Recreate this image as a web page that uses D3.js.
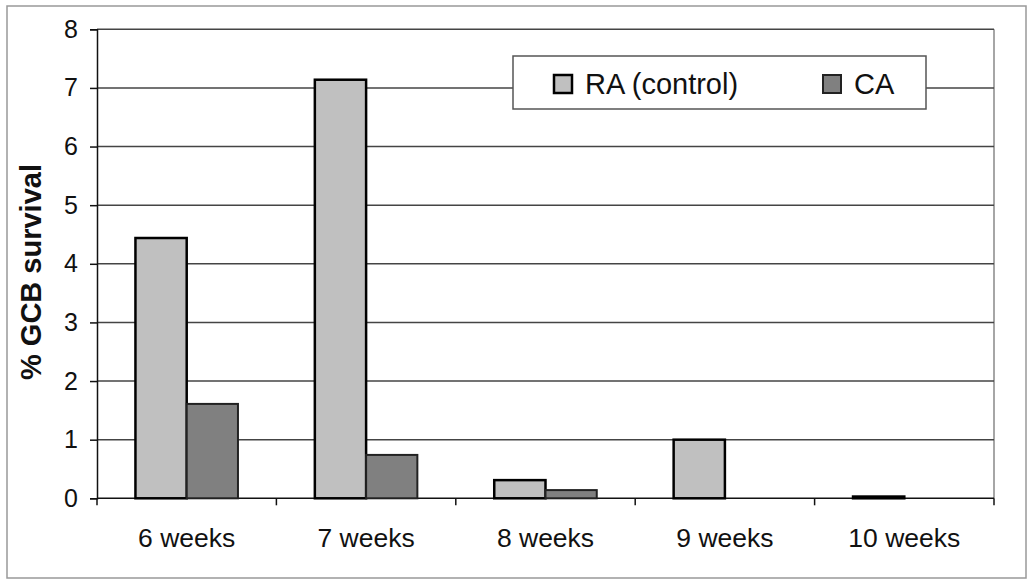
<!DOCTYPE html>
<html><head><meta charset="utf-8">
<script src="https://cdn.jsdelivr.net/npm/d3@7"></script>
<style>body{margin:0;background:#fff}svg{display:block}text{font-family:"Liberation Sans",Arial,sans-serif;fill:#111}</style>
</head><body><svg id="c" width="1029" height="581"></svg>
<script>
const categories = ["6 weeks","7 weeks","8 weeks","9 weeks","10 weeks"];
const seriesNames = ["RA (control)","CA"];
const raValues = [4.44, 7.14, 0.31, 1.0, 0.03];
const caValues = [1.61, 0.74, 0.14, 0, 0];
const yTicks = [0,1,2,3,4,5,6,7,8];
const yTitle = "% GCB survival";

const svg = d3.select("#c");
const L = 97, R = 994, T = 29.3, B = 498.3;
const x = d3.scaleBand().domain(categories).range([L, R]).paddingInner(0).paddingOuter(0);
const y = d3.scaleLinear().domain([0, 8]).range([B, T]);
const fills = ["#c0c0c0", "#808080"];
const strokes = ["#000", "#222"];
const sw = [2.5, 2];

// outer border
svg.append("rect").attr("x",7).attr("y",6).attr("width",1019).attr("height",572)
  .attr("fill","none").attr("stroke","#999").attr("stroke-width",1.5);

// plot frame (right side gray)
svg.append("line").attr("x1",R).attr("x2",R).attr("y1",T).attr("y2",B)
  .attr("stroke","#888").attr("stroke-width",1.5);

// gridlines
svg.append("g").selectAll("line").data(yTicks.filter(d=>d>0)).join("line")
  .attr("x1",L).attr("x2",R).attr("y1",d=>y(d)).attr("y2",d=>y(d))
  .attr("stroke","#444").attr("stroke-width",1.4);

// y axis
const yAxis = d3.axisLeft(y).tickValues(yTicks).tickSize(7).tickPadding(12).tickFormat(d3.format("d"));
const gy = svg.append("g").attr("transform",`translate(${L},0)`).call(yAxis);
gy.select(".domain").attr("stroke","#111").attr("stroke-width",1.5);
gy.selectAll(".tick line").attr("stroke","#111").attr("stroke-width",1.5);
gy.selectAll(".tick text").style("font-size","25px").attr("fill","#111");

// x axis with ticks at boundaries
const gx = svg.append("g").attr("transform",`translate(0,${B})`);
gx.append("line").attr("x1",L).attr("x2",R).attr("stroke","#111").attr("stroke-width",1.5);
const bounds = categories.map(c=>x(c)).concat([R]);
gx.selectAll("line.tk").data(bounds).join("line").attr("class","tk")
  .attr("x1",d=>d).attr("x2",d=>d).attr("y1",0).attr("y2",7).attr("stroke","#111").attr("stroke-width",1.5);
gx.selectAll("text").data(categories).join("text")
  .attr("x",d=>x(d)+x.bandwidth()/2).attr("y",49).attr("text-anchor","middle")
  .style("font-size","26.5px").text(d=>d);

// bars
const inner = d3.scaleBand().domain(seriesNames).range([0, x.bandwidth()]).paddingOuter(0.75).paddingInner(0);
const data = [raValues, caValues];
seriesNames.forEach((s, si) => {
  svg.append("g").selectAll("rect").data(categories.map((c,i)=>({c, v:data[si][i]})).filter(d=>d.v>0)).join("rect")
    .attr("x",d=>x(d.c)+inner(s)).attr("width",inner.bandwidth())
    .attr("y",d=>y(d.v)).attr("height",d=>B-y(d.v))
    .attr("fill",fills[si]).attr("stroke",strokes[si]).attr("stroke-width",sw[si]);
});

// y title
svg.append("text").attr("transform","translate(41,272) rotate(-90)").attr("text-anchor","middle")
  .style("font-size","29px").style("font-weight","bold").text(yTitle);

// legend
const lg = svg.append("g");
lg.append("rect").attr("x",513).attr("y",56).attr("width",413).attr("height",53)
  .attr("fill","#fff").attr("stroke","#555").attr("stroke-width",1.5);
const lx = [554, 823];
seriesNames.forEach((s,si)=>{
  lg.append("rect").attr("x",lx[si]).attr("y",75).attr("width",18).attr("height",18)
    .attr("fill",fills[si]).attr("stroke",strokes[si]).attr("stroke-width",si===0?2.5:2);
  lg.append("text").attr("x",lx[si]+31).attr("y",93.5).style("font-size","29px").text(s);
});
</script></body></html>
